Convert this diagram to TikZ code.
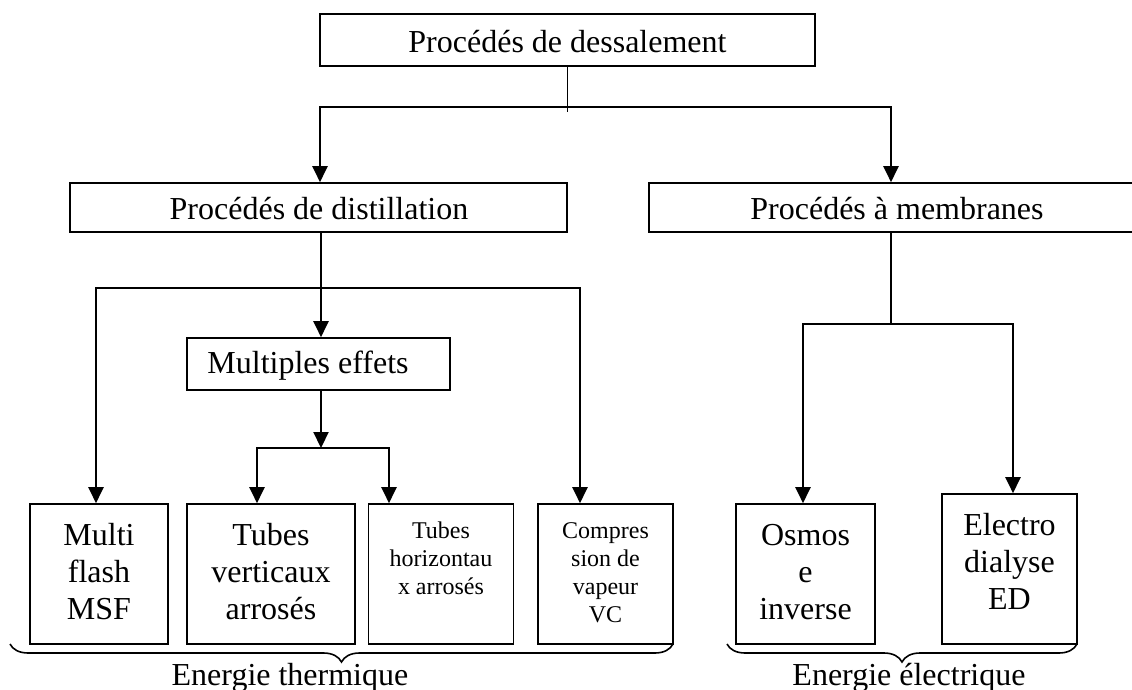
\documentclass[tikz,border=0pt]{standalone}
\usepackage{fontspec}
\setmainfont{Liberation Serif}
\usetikzlibrary{arrows.meta,decorations.pathreplacing}
\tikzset{
  box/.style={draw, line width=1.6pt, rectangle, inner sep=0pt},
  big/.style={font=\fontsize{32}{37}\selectfont, align=center, inner sep=0pt},
  small/.style={font=\fontsize{24}{28}\selectfont, align=center, inner sep=0pt},
  conn/.style={line width=2.2pt},
  arr/.style={line width=2.2pt, -{Triangle[width=15pt,length=16pt]}},
  bracey/.style={line width=1.6pt, decorate, decoration={brace, mirror, amplitude=18pt}}
}
\begin{document}
\begin{tikzpicture}[x=1pt,y=-1pt]
\useasboundingbox (0,0) rectangle (1132,690);
\fill[white] (0,0) rectangle (1132,690);

% boxes
\node[box, minimum width=495pt, minimum height=52pt] (top) at (567.5,40) {};
\node[big] (topt) at (567.5,42) {Procédés de dessalement};

\node[box, minimum width=497pt, minimum height=49pt] (dist) at (318.5,207.5) {};
\node[big] (distt) at (319,209) {Procédés de distillation};

\node[box, minimum width=491pt, minimum height=49pt] (memb) at (894.5,207.5) {};
\node[big] (membt) at (897,209) {Procédés à membranes};

\node[box, minimum width=263pt, minimum height=52pt] (me) at (318.5,364) {};
\node[big] (met) at (308,366) {Multiples effets};

\node[box, minimum width=138pt, minimum height=140pt] (msf) at (99,574) {};
\node[big] (msft) at (99,572) {Multi\\flash\\MSF};

\node[box, minimum width=168pt, minimum height=140pt] (tv) at (271,574) {};
\node[big] (tvt) at (271,572) {Tubes\\verticaux\\arrosés};

\node[box, minimum width=145pt, minimum height=140pt] (th) at (441,574) {};
\node[small] (tht) at (441,558) {Tubes\\horizontau\\x arrosés};

\node[box, minimum width=135pt, minimum height=140pt] (vc) at (605.5,574) {};
\node[small] (vct) at (605.5,573) {Compres\\sion de\\vapeur\\VC};

\node[box, minimum width=139pt, minimum height=140pt] (os) at (805.5,574) {};
\node[big] (ost) at (805.5,572) {Osmos\\e\\inverse};

\node[box, minimum width=135pt, minimum height=150pt] (ed) at (1009.5,569) {};
\node[big] (edt) at (1009.5,561) {Electro\\dialyse\\ED};

% connectors: top level
\coordinate (j1) at (567,107);
\draw[line width=1.5pt] (top.south) -- ++(0,45);
\draw[arr] (j1) -| ([xshift=1.5pt]dist.north);
\draw[arr] (j1) -| ([xshift=-3.5pt]memb.north);

% distillation branch
\coordinate (j2) at (321,288);
\draw[arr] ([xshift=2.5pt]dist.south) -- ([xshift=2.5pt]me.north);
\draw[arr] (j2) -| ([xshift=-3pt]msf.north);
\draw[arr] (j2) -| ([xshift=-25.5pt]vc.north);

% multiples effets branch
\coordinate (j3) at (321,448);
\draw[arr] ([xshift=2.5pt]me.south) -- (j3);
\draw[arr] (j3) -| ([xshift=-14pt]tv.north);
\draw[arr] (j3) -| ([xshift=-52pt]th.north);

% membranes branch
\coordinate (j4) at (891,324);
\draw[conn] ([xshift=-3.5pt]memb.south) -- (j4);
\draw[arr] (j4) -| ([xshift=-2.5pt]os.north);
\draw[arr] (j4) -| ([xshift=3.5pt]ed.north);

% braces
\coordinate (b1) at (10,644);
\coordinate (b2) at (673,644);
\coordinate (b3) at (727,644);
\coordinate (b4) at (1077,644);
\draw[bracey] (b1) -- (b2);
\draw[bracey] (b3) -- (b4);
\node[font=\fontsize{32}{37}\selectfont, anchor=base, inner sep=0pt] (lth) at (290,685) {Energie thermique};
\node[font=\fontsize{32}{37}\selectfont, anchor=base, inner sep=0pt] (lel) at (909,685) {Energie électrique};
\end{tikzpicture}
\end{document}
